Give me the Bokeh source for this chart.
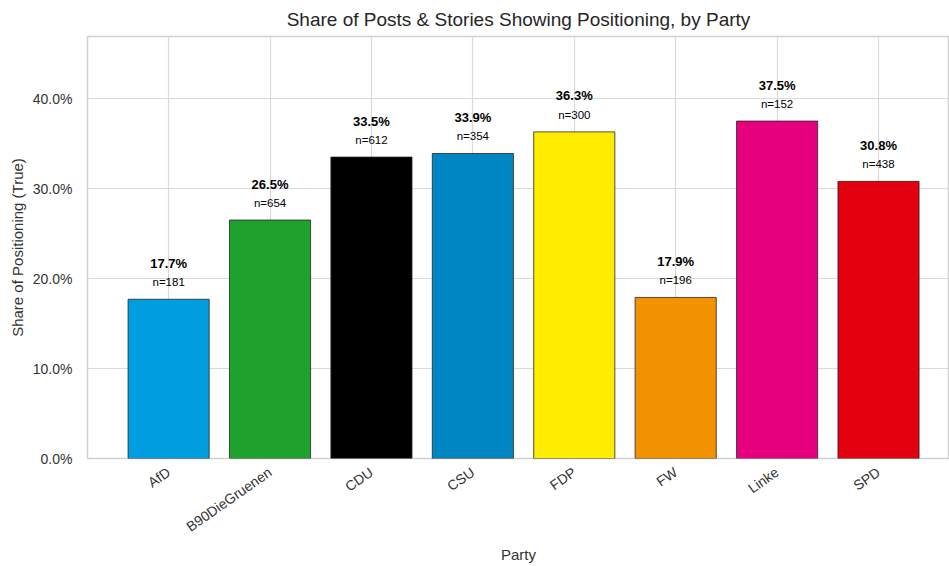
from bokeh.plotting import figure
from bokeh.models import ColumnDataSource, FixedTicker, NumeralTickFormatter, Range1d
from bokeh.embed import file_html
from bokeh.resources import INLINE
from bokeh.core.properties import value
import math

parties = ["AfD", "B90DieGruenen", "CDU", "CSU", "FDP", "FW", "Linke", "SPD"]
shares = [0.177, 0.265, 0.335, 0.339, 0.363, 0.179, 0.375, 0.308]
counts = [181, 654, 612, 354, 300, 196, 152, 438]
colors = ["#009EE0", "#1FA12D", "#000000", "#0087C3", "#FFED00", "#F39200", "#E6007E", "#E3000F"]

FONT = "Liberation Sans"
xs = list(range(len(parties)))
src = ColumnDataSource(dict(
    x=xs, top=shares, color=colors,
    pct=[f"{s*100:.1f}%" for s in shares],
    n=[f"n={c}" for c in counts],
))

p = figure(width=949, height=566, output_backend="svg", toolbar_location=None,
           x_range=Range1d(-0.8, 7.7), y_range=Range1d(0, 0.469),
           title="Share of Posts & Stories Showing Positioning, by Party",
           min_border_left=87, min_border_right=0, min_border_top=36, min_border_bottom=108)

p.vbar(x="x", top="top", width=0.8, bottom=0, fill_color="color",
       line_color="#262626", line_width=0.8, source=src)

p.text(x="x", y="top", text="n", source=src, y_offset=-17,
       text_align="center", text_baseline="middle", text_font=value(FONT),
       text_font_size="11.5px", text_color="#000000")
p.text(x="x", y="top", text="pct", source=src, y_offset=-36,
       text_align="center", text_baseline="middle", text_font=value(FONT),
       text_font_size="13px", text_font_style="bold", text_color="#000000")

p.title.align = "center"
p.title.text_font = FONT
p.title.text_font_size = "19px"
p.title.text_font_style = "normal"
p.title.text_color = "#262626"
p.title.standoff = 13

p.xaxis.ticker = FixedTicker(ticks=xs)
p.xaxis.major_label_overrides = {i: name for i, name in enumerate(parties)}
p.xaxis.major_label_orientation = math.radians(35)
p.yaxis.ticker = FixedTicker(ticks=[0, 0.1, 0.2, 0.3, 0.4])
p.yaxis.formatter = NumeralTickFormatter(format="0.0%")

p.xaxis.axis_label = "Party"
p.yaxis.axis_label = "Share of Positioning (True)"
for ax in (p.xaxis, p.yaxis):
    ax.axis_line_color = None
    ax.major_tick_line_color = None
    ax.minor_tick_line_color = None
    ax.major_label_text_font = FONT
    ax.major_label_text_font_size = "14px"
    ax.major_label_text_color = "#333333"
    ax.axis_label_text_font = FONT
    ax.axis_label_text_font_size = "15px"
    ax.axis_label_text_font_style = "normal"
    ax.axis_label_text_color = "#333333"
p.xaxis.major_label_standoff = 6
p.yaxis.major_label_standoff = 9
p.xaxis.axis_label_standoff = 2
p.yaxis.axis_label_standoff = 4

p.xgrid.grid_line_color = "#d9d9d9"
p.ygrid.grid_line_color = "#d9d9d9"
p.xgrid.grid_line_width = 1.2
p.ygrid.grid_line_width = 1.2
p.outline_line_color = "#d0d0d0"
p.outline_line_width = 1.5
p.background_fill_color = "white"
p.border_fill_color = "white"

open("out.html", "w").write(file_html(p, INLINE))
